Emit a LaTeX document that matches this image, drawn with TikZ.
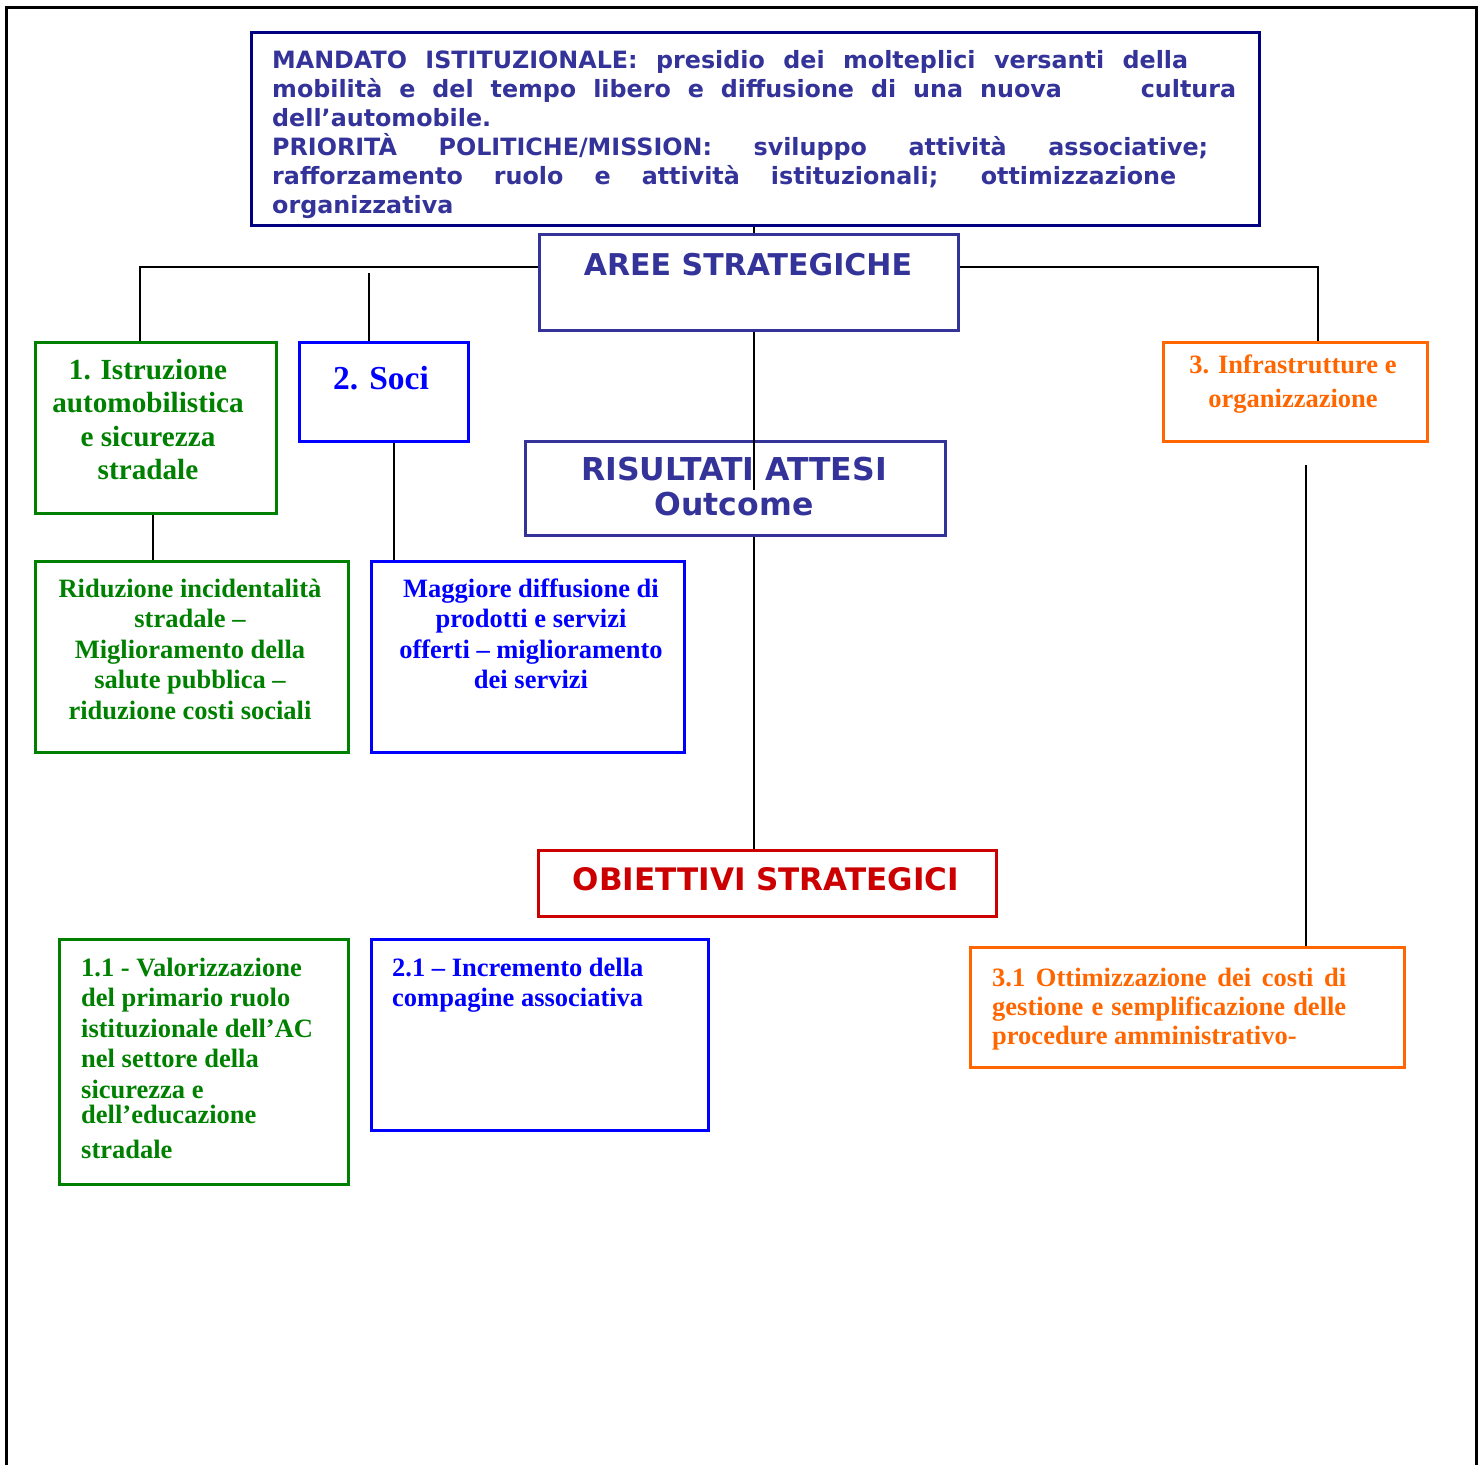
\documentclass[tikz,border=0pt]{standalone}
\usepackage{fontspec}
\setmainfont{Liberation Serif}
\newfontfamily\verdfont{DejaVu Sans}
\usepackage{tikz}

\definecolor{navyline}{HTML}{000080}
\definecolor{acblue}{HTML}{333399}
\definecolor{acgreen}{HTML}{008000}
\definecolor{acorange}{HTML}{FF6600}
\definecolor{acred}{HTML}{CC0000}

\tikzset{
  box/.style={draw, line width=3pt, inner sep=0pt, anchor=north west},
  link/.style={line width=2pt},
  title/.style={font=\verdfont\bfseries\fontsize{30}{35}\selectfont, text=acblue, anchor=base, inner sep=0pt},
  serif/.style={font=\bfseries\fontsize{26.5}{30.5}\selectfont, anchor=base, inner sep=0pt},
}

\begin{document}
\begin{tikzpicture}[x=1pt,y=-1pt]
\useasboundingbox (0,0) rectangle (1482,1465);
\draw[line width=3pt] (6,1465) -- (6,7) -- (1476,7) -- (1476,1465);

% riquadri
\foreach \name/\col/\x/\y/\w/\h in {
    mandato/navyline/250/31/1008/193, aree/acblue/538/233/419/96,
    risultati/acblue/524/440/420/94, obiettivi/acred/537/849/458/66,
    istruzione/acgreen/34/341/241/171, soci/blue/298/341/169/99,
    infra/acorange/1162/341/264/99, riduzione/acgreen/34/560/313/191,
    diffusione/blue/370/560/313/191, valorizza/acgreen/58/938/289/245,
    incremento/blue/370/938/337/191, ottimizza/acorange/969/946/434/120}
  \node[box, draw=\col, minimum width=\w, minimum height=\h] (\name) at (\x,\y) {};

% collegamenti
\coordinate (asse) at (754,0);
\coordinate (ramo1) at (140,267);
\coordinate (ramo2) at (369,273);
\coordinate (ramo3) at (1318,267);
\coordinate (stop) at (754,490);
\coordinate (c1) at (153,0);
\coordinate (c2) at (394,0);
\coordinate (c3) at (1306,465);
\draw[link] (mandato.south -| asse) -- (aree.north -| asse);
\draw[link] (aree.west |- ramo1) -- (ramo1) -- (istruzione.north -| ramo1);
\draw[link] (ramo2) -- (soci.north -| ramo2);
\draw[link] (aree.east |- ramo3) -- (ramo3) -- (infra.north -| ramo3);
\draw[link] (aree.south -| asse) -- (stop);
\draw[link] (risultati.south -| asse) -- (obiettivi.north -| asse);
\draw[link] (istruzione.south -| c1) -- (riduzione.north -| c1);
\draw[link] (soci.south -| c2) -- (diffusione.north -| c2);
\draw[link] (c3) -- (ottimizza.north -| c3);

% testi (ancorati alla linea di base dell'ultima riga)
\node[title, anchor=base west, align=left, font=\verdfont\bfseries\fontsize{23.8}{29}\selectfont] (mandatotxt) at (272,213) {%
  \makebox[916pt][s]{MANDATO ISTITUZIONALE: presidio dei molteplici versanti della}\\
  \makebox[964pt][s]{mobilità e del tempo libero e diffusione di una nuova\hspace{62pt} cultura}\\
  dell’automobile.\\
  \makebox[936pt][s]{PRIORITÀ POLITICHE/MISSION: sviluppo attività associative;}\\
  \makebox[904pt][s]{rafforzamento ruolo e attività istituzionali; ottimizzazione}\\
  organizzativa};
\node[title] (areetxt) at (748,275) {AREE STRATEGICHE};
\node[title, align=center, font=\verdfont\bfseries\fontsize{31.5}{35}\selectfont] (risultatitxt) at (734,515) {RISULTATI ATTESI\\Outcome};
\node[title, text=acred, font=\verdfont\bfseries\fontsize{31}{35}\selectfont] (obiettivitxt) at (766,890) {OBIETTIVI STRATEGICI};

\node[serif, text=acgreen, align=center, font=\bfseries\fontsize{29.2}{33.5}\selectfont] (istruzionetxt) at (148,479.5)
  {1. Istruzione\\automobilistica\\e sicurezza\\stradale};
\node[serif, text=blue, font=\bfseries\fontsize{33.5}{40}\selectfont] (socitxt) at (381,389) {2. Soci};
\node[serif, text=acorange, align=center, font=\bfseries\fontsize{26.5}{34}\selectfont] (infratxt) at (1293,407)
  {3. Infrastrutture e\\organizzazione};
\node[serif, text=acgreen, align=center] (riduzionetxt) at (190,719)
  {Riduzione incidentalità\\stradale –\\Miglioramento della\\salute pubblica –\\riduzione costi sociali};
\node[serif, text=blue, align=center] (diffusionetxt) at (531,688.5)
  {Maggiore diffusione di\\prodotti e servizi\\offerti – miglioramento\\dei servizi};
\node[serif, text=acgreen, anchor=base west, align=left] (valorizzatxt) at (81,1158)
  {1.1 - Valorizzazione\\del primario ruolo\\istituzionale dell’AC\\nel settore della\\sicurezza e\\[-5.5pt]dell’educazione\\[4.5pt]stradale};
\node[serif, text=blue, anchor=base west, align=left] (incrementotxt) at (392,1006.5)
  {2.1 – Incremento della\\compagine associativa};
\node[serif, text=acorange, anchor=base west, align=left, font=\bfseries\fontsize{26.5}{29}\selectfont] (ottimizzatxt) at (992,1044)
  {\makebox[354pt][s]{3.1 Ottimizzazione dei costi di}\\
   \makebox[354pt][s]{gestione e semplificazione delle}\\
   procedure amministrativo-};
\end{tikzpicture}
\end{document}
